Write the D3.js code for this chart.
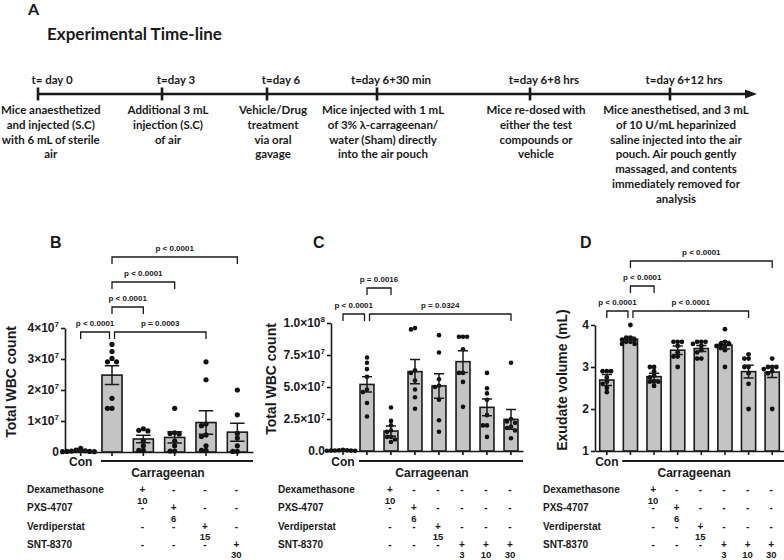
<!DOCTYPE html>
<html>
<head>
<meta charset="utf-8">
<script src="https://cdn.jsdelivr.net/npm/d3@7"></script>
<style>
body { margin: 0; background: #fff; }
svg { display: block; }
.tl { font-family: Lato, "Open Sans", sans-serif; font-weight: 700; fill: #1a1a1a; }
.pn { font-family: "Liberation Sans", Arial, sans-serif; font-weight: 700; fill: #1a1a1a; }
</style>
</head>
<body>
<svg id="fig" width="784" height="560"></svg>
<script>
// ---------- timeline (panel A)
var eventTimes = ["t= day 0", "t=day 3", "t=day 6", "t=day 6+30 min", "t=day 6+8 hrs", "t=day 6+12 hrs"];
var eventNotes = [
  ["Mice anaesthetized", "and injected (S.C)", "with 6 mL of sterile", "air"],
  ["Additional 3 mL", "injection (S.C)", "of air"],
  ["Vehicle/Drug", "treatment", "via oral", "gavage"],
  ["Mice injected with 1 mL", "of  3% \u03bb-carrageenan/", "water (Sham) directly", "into the air pouch"],
  ["Mice re-dosed with", "either the test", "compounds or", "vehicle"],
  ["Mice anesthetised, and 3 mL", "of  10 U/mL heparinized", "saline injected into the air", "pouch. Air pouch gently", "massaged, and contents", "immediately removed for", "analysis"]
];

// ---------- table rows shared by B, C, D
var drugNames = ["Dexamethasone", "PXS-4707", "Verdiperstat", "SNT-8370"];

// ---------- panel B : total WBC count (x 10^7)
var groupsB = ["Con", "Carr", "Dex", "PXS", "Verd", "SNT30"];
var drugsB = ["", "", "Dexamethasone", "PXS-4707", "Verdiperstat", "SNT-8370"];
var dosesB = [null, null, 10, 6, 15, 30];
var meansB = [0.04, 2.48, 0.42, 0.47, 0.95, 0.64];
var semsB = [0.015, 0.3, 0.12, 0.18, 0.38, 0.29];
var pointsB = [
  [0.12, 0.06, 0.04, 0.03, 0.02, 0.02, 0.01, 0.01],
  [3.47, 3.24, 3.02, 2.91, 2.91, 1.73, 1.41, 1.41],
  [0.75, 0.7, 0.68, 0.35, 0.2, 0.05, 0.05],
  [1.41, 0.62, 0.6, 0.58, 0.35, 0.2, 0.03, 0.03],
  [2.91, 2.33, 0.9, 0.85, 0.55, 0.5, 0.2, 0.05, 0.05],
  [2.0, 1.2, 0.6, 0.45, 0.2, 0.02, 0.02]
];
var ticksB = [0, 1, 2, 3, 4];
var tickLabelsB = ["0", "1\u00d710^7", "2\u00d710^7", "3\u00d710^7", "4\u00d710^7"];
var bracketsB = [
  { a: 0, b: 1, row: 0, p: "p < 0.0001" },
  { a: 1, b: 4, row: 0, p: "p = 0.0003" },
  { a: 1, b: 2, row: 1, p: "p < 0.0001" },
  { a: 1, b: 3, row: 2, p: "p < 0.0001" },
  { a: 1, b: 5, row: 3, p: "p < 0.0001" }
];

// ---------- panel C : total WBC count (x 10^7)
var groupsC = ["Con", "Carr", "Dex", "PXS", "Verd", "SNT3", "SNT10", "SNT30"];
var drugsC = ["", "", "Dexamethasone", "PXS-4707", "Verdiperstat", "SNT-8370", "SNT-8370", "SNT-8370"];
var dosesC = [null, null, 10, 6, 15, 3, 10, 30];
var meansC = [0.04, 5.2, 1.56, 6.2, 5.08, 6.98, 3.41, 2.47];
var semsC = [0.02, 0.6, 0.4, 0.95, 0.95, 0.85, 0.65, 0.78];
var pointsC = [
  [0.1, 0.06, 0.05, 0.04, 0.03, 0.03, 0.02, 0.02],
  [7.3, 6.9, 6.4, 5.8, 4.8, 4.6, 3.75, 2.7],
  [3.4, 2.35, 2.0, 1.6, 1.5, 1.1, 1.1, 0.9, 0.7],
  [9.6, 9.5, 6.3, 6.1, 5.5, 4.8, 4.2, 3.3],
  [9.05, 7.7, 5.6, 5.1, 5.0, 4.0, 2.4, 1.5],
  [8.93, 8.93, 8.93, 7.95, 6.1, 6.1, 5.4, 3.45],
  [6.1, 4.9, 4.5, 4.0, 2.8, 2.0, 2.0, 1.1],
  [6.9, 2.5, 2.3, 2.2, 1.9, 1.8, 1.6, 1.0]
];
var ticksC = [0, 2.5, 5, 7.5, 10];
var tickLabelsC = ["0.0", "2.5\u00d710^7", "5.0\u00d710^7", "7.5\u00d710^7", "1.0\u00d710^8"];
var bracketsC = [
  { a: 0, b: 1, row: 0, p: "p < 0.0001" },
  { a: 1, b: 7, row: 0, p: "p = 0.0324" },
  { a: 1, b: 2, row: 1, p: "p = 0.0016" }
];

// ---------- panel D : exudate volume (mL)
var groupsD = ["Con", "Carr", "Dex", "PXS", "Verd", "SNT3", "SNT10", "SNT30"];
var drugsD = drugsC;
var dosesD = dosesC;
var meansD = [2.69, 3.66, 2.77, 3.40, 3.44, 3.52, 2.89, 2.88];
var semsD = [0.13, 0.05, 0.08, 0.1, 0.07, 0.09, 0.15, 0.13];
var pointsD = [
  [2.9, 2.9, 2.9, 2.75, 2.65, 2.6, 2.5, 2.4],
  [4.0, 3.7, 3.7, 3.65, 3.65, 3.6, 3.6, 3.55, 3.55],
  [3.0, 3.0, 2.9, 2.8, 2.75, 2.65, 2.65, 2.65, 2.55],
  [3.6, 3.6, 3.6, 3.5, 3.35, 3.25, 3.25, 3.0],
  [3.6, 3.6, 3.6, 3.55, 3.5, 3.4, 3.35, 3.2, 3.2],
  [3.9, 3.6, 3.55, 3.55, 3.5, 3.5, 3.45, 3.4, 3.0],
  [3.3, 3.2, 3.2, 3.0, 3.0, 2.85, 2.6, 2.0],
  [3.2, 3.0, 3.0, 3.0, 2.95, 2.9, 2.85, 2.0]
];
var ticksD = [1, 2, 3, 4];
var tickLabelsD = ["1", "2", "3", "4"];
var bracketsD = [
  { a: 0, b: 1, row: 0, p: "p < 0.0001" },
  { a: 1, b: 6, row: 0, p: "p < 0.0001" },
  { a: 1, b: 2, row: 1, p: "p < 0.0001" },
  { a: 1, b: 7, row: 2, p: "p < 0.0001" }
];

var ink = "#1a1a1a";
var svg = d3.select("#fig");
svg.append("rect").attr("width", 784).attr("height", 560).attr("fill", "#fff");

// ---------- draw panel A
svg.append("text").attr("class", "tl").attr("x", 28).attr("y", 15).attr("font-size", 16).text("A");
svg.append("text").attr("class", "tl").attr("x", 47).attr("y", 40).attr("font-size", 17).text("Experimental Time-line");

var tx = d3.scaleOrdinal().domain(eventTimes).range([38, 162, 267, 377, 530, 670]);
var lineY = 94;

svg.append("line")
  .attr("x1", 38).attr("x2", 748).attr("y1", lineY).attr("y2", lineY)
  .attr("stroke", ink).attr("stroke-width", 2.6);
svg.append("path")
  .attr("d", "M745," + (lineY - 4.5) + "L757," + lineY + "L745," + (lineY + 4.5) + "Z")
  .attr("fill", ink);

eventTimes.forEach(function (t, i) {
  var x = tx(t);
  svg.append("line")
    .attr("x1", x).attr("x2", x).attr("y1", lineY - 6.5).attr("y2", lineY + 6.5)
    .attr("stroke", ink).attr("stroke-width", 2.6);
  svg.append("text").attr("class", "tl")
    .attr("x", x + 14).attr("y", lineY - 10)
    .attr("text-anchor", "middle").attr("font-size", 11.5)
    .text(t);

  var block = svg.append("text").attr("class", "tl")
    .attr("text-anchor", "middle").attr("font-size", 11.5);
  eventNotes[i].forEach(function (line, j) {
    block.append("tspan").attr("x", x + 6).attr("y", 114 + j * 14.8).text(line);
  });
  var bb = block.node().getBBox();
  if (bb.x < 1) block.attr("transform", "translate(" + (1 - bb.x) + ",0)");
});

// ---------- helpers
function setTickLabel(textSel, label) {
  textSel.text(null);
  var parts = label.split("^");
  textSel.append("tspan").text(parts[0]);
  if (parts[1]) {
    textSel.append("tspan").attr("font-size", 8).attr("dy", -5).text(parts[1]);
  }
}

// simple beeswarm: spread dots sideways when they would overlap too much
function swarm(vals, y, r) {
  var placed = [];
  var step = r * 1.75;
  return vals.map(function (v) {
    var cy = y(v);
    var cands = [0];
    for (var k = 1; k < 10; k++) { cands.push(-k * step); cands.push(k * step); }
    var dx = 0;
    for (var c = 0; c < cands.length; c++) {
      var ok = placed.every(function (p) {
        var ddx = p.dx - cands[c], ddy = p.cy - cy;
        return ddx * ddx + ddy * ddy >= step * step * 0.95;
      });
      if (ok) { dx = cands[c]; break; }
    }
    placed.push({ dx: dx, cy: cy });
    return { dx: dx, cy: cy };
  });
}

function drawPanel(p) {
  var g = svg.append("g");
  var x = d3.scaleBand().domain(p.groups).range([p.left, p.right])
    .paddingInner(p.pad).paddingOuter(p.pad / 2);
  var y = d3.scaleLinear().domain(p.domain).range([p.bottom, p.top]);
  var bw = x.bandwidth();

  // panel letter
  g.append("text").attr("class", "pn").attr("x", p.letterX).attr("y", 248)
    .attr("font-size", 16).text(p.letter);

  // y axis
  var yAxis = g.append("g")
    .attr("transform", "translate(" + p.left + ",0)")
    .call(d3.axisLeft(y).tickValues(p.ticks).tickSize(4).tickSizeOuter(0));
  yAxis.select(".domain").attr("stroke", ink).attr("stroke-width", 1.6);
  yAxis.selectAll(".tick line").attr("stroke", ink).attr("stroke-width", 1.6);
  yAxis.selectAll(".tick text")
    .attr("class", "pn").attr("font-size", 12).attr("x", -6)
    .each(function (d, i) { setTickLabel(d3.select(this), p.tickLabels[i]); });
  yAxis.attr("font-family", null).attr("font-size", null);

  g.append("text").attr("class", "pn")
    .attr("transform", "translate(" + p.labelX + "," + ((p.top + p.bottom) / 2 - 8) + ") rotate(-90)")
    .attr("text-anchor", "middle").attr("font-size", 14)
    .text(p.yLabel);

  // x axis
  var xAxis = g.append("g")
    .attr("transform", "translate(0," + p.bottom + ")")
    .call(d3.axisBottom(x).tickSize(4).tickSizeOuter(0).tickFormat(""));
  xAxis.select(".domain").attr("stroke", ink).attr("stroke-width", 1.6);
  xAxis.selectAll(".tick line").attr("stroke", ink).attr("stroke-width", 1.6);

  // bars
  g.selectAll("rect.bar").data(p.means).enter().append("rect")
    .attr("class", "bar")
    .attr("x", function (d, i) { return x(p.groups[i]); })
    .attr("width", bw)
    .attr("y", function (d) { return y(d); })
    .attr("height", function (d) { return y(p.domain[0]) - y(d); })
    .attr("fill", "#c4c4c4").attr("stroke", ink).attr("stroke-width", 1.6);

  // points
  p.points.forEach(function (vals, i) {
    var cx = x(p.groups[i]) + bw / 2;
    var pos = swarm(vals, y, p.r);
    g.selectAll(null).data(pos).enter().append("circle")
      .attr("cx", function (d) { return cx + d.dx; })
      .attr("cy", function (d) { return d.cy; })
      .attr("r", p.r).attr("fill", "#111");
  });

  // error bars (mean +/- SEM)
  var cap = bw * 0.36;
  p.means.forEach(function (m, i) {
    var cx = x(p.groups[i]) + bw / 2;
    var hi = y(m + p.sems[i]), lo = y(m - p.sems[i]);
    g.append("path")
      .attr("d", "M" + cx + "," + hi + "V" + lo +
        "M" + (cx - cap) + "," + hi + "H" + (cx + cap) +
        "M" + (cx - cap) + "," + lo + "H" + (cx + cap))
      .attr("stroke", ink).attr("stroke-width", 1.5).attr("fill", "none");
  });

  // significance brackets
  p.brackets.forEach(function (b) {
    var x1 = x(p.groups[b.a]) + bw / 2, x2 = x(p.groups[b.b]) + bw / 2;
    p.brackets.forEach(function (o) {
      if (o !== b && o.row === b.row) {
        if (o.b === b.a) x1 += 2.5;
        if (o.a === b.b) x2 -= 2.5;
      }
    });
    var by = p.bracketY - b.row * p.bracketStep;
    g.append("path")
      .attr("d", "M" + x1 + "," + (by + 7) + "V" + by + "H" + x2 + "V" + (by + 7))
      .attr("stroke", ink).attr("stroke-width", 1.3).attr("fill", "none");
    g.append("text").attr("class", "pn")
      .attr("x", (x1 + x2) / 2).attr("y", by - 6)
      .attr("text-anchor", "middle").attr("font-size", 8)
      .text(b.p);
  });

  // group labels under the axis
  g.append("text").attr("class", "pn")
    .attr("x", x(p.groups[0]) + bw / 2).attr("y", 466)
    .attr("text-anchor", "middle").attr("font-size", 12).text("Con");
  var cStart = x(p.groups[1]) - 1;
  g.append("line")
    .attr("x1", cStart).attr("x2", p.right).attr("y1", 461).attr("y2", 461)
    .attr("stroke", ink).attr("stroke-width", 2);
  g.append("text").attr("class", "pn")
    .attr("x", (cStart + p.right) / 2 - 9).attr("y", 477)
    .attr("text-anchor", "middle").attr("font-size", 12).text("Carrageenan");

  // treatment table
  drugNames.forEach(function (name, r) {
    var ry = 493 + r * 18.3;
    g.append("text").attr("class", "pn")
      .attr("x", p.tableX).attr("y", ry).attr("font-size", 10).text(name);
    p.groups.forEach(function (grp, i) {
      if (!p.drugs[i]) return;
      var cx = x(grp) + bw / 2 - 1;
      var on = p.drugs[i] === name;
      g.append("text").attr("class", "pn")
        .attr("x", cx).attr("y", ry).attr("text-anchor", "middle")
        .attr("font-size", 10).text(on ? "+" : "-");
      if (on) {
        g.append("text").attr("class", "pn")
          .attr("x", cx).attr("y", ry + 10.5).attr("text-anchor", "middle")
          .attr("font-size", 9.5).text(p.doses[i]);
      }
    });
  });
}

drawPanel({
  letter: "B", letterX: 50, groups: groupsB, means: meansB, sems: semsB, points: pointsB,
  drugs: drugsB, doses: dosesB, ticks: ticksB, tickLabels: tickLabelsB, brackets: bracketsB,
  domain: [0, 4], left: 65, right: 253, top: 328, bottom: 452, pad: 0.36, r: 2.6,
  bracketY: 332, bracketStep: 25, labelX: 16, tableX: 27, yLabel: "Total WBC count"
});
drawPanel({
  letter: "C", letterX: 313, groups: groupsC, means: meansC, sems: semsC, points: pointsC,
  drugs: drugsC, doses: dosesC, ticks: ticksC, tickLabels: tickLabelsC, brackets: bracketsC,
  domain: [0, 10], left: 331, right: 523, top: 323, bottom: 451, pad: 0.42, r: 2.3,
  bracketY: 314, bracketStep: 26, labelX: 276, tableX: 278, yLabel: "Total WBC count"
});
drawPanel({
  letter: "D", letterX: 580, groups: groupsD, means: meansD, sems: semsD, points: pointsD,
  drugs: drugsD, doses: dosesD, ticks: ticksD, tickLabels: tickLabelsD, brackets: bracketsD,
  domain: [1, 4], left: 595, right: 784, top: 325, bottom: 451, pad: 0.4, r: 2.4,
  bracketY: 311, bracketStep: 25, labelX: 567, tableX: 543, yLabel: "Exudate volume (mL)"
});
</script>
</body>
</html>
